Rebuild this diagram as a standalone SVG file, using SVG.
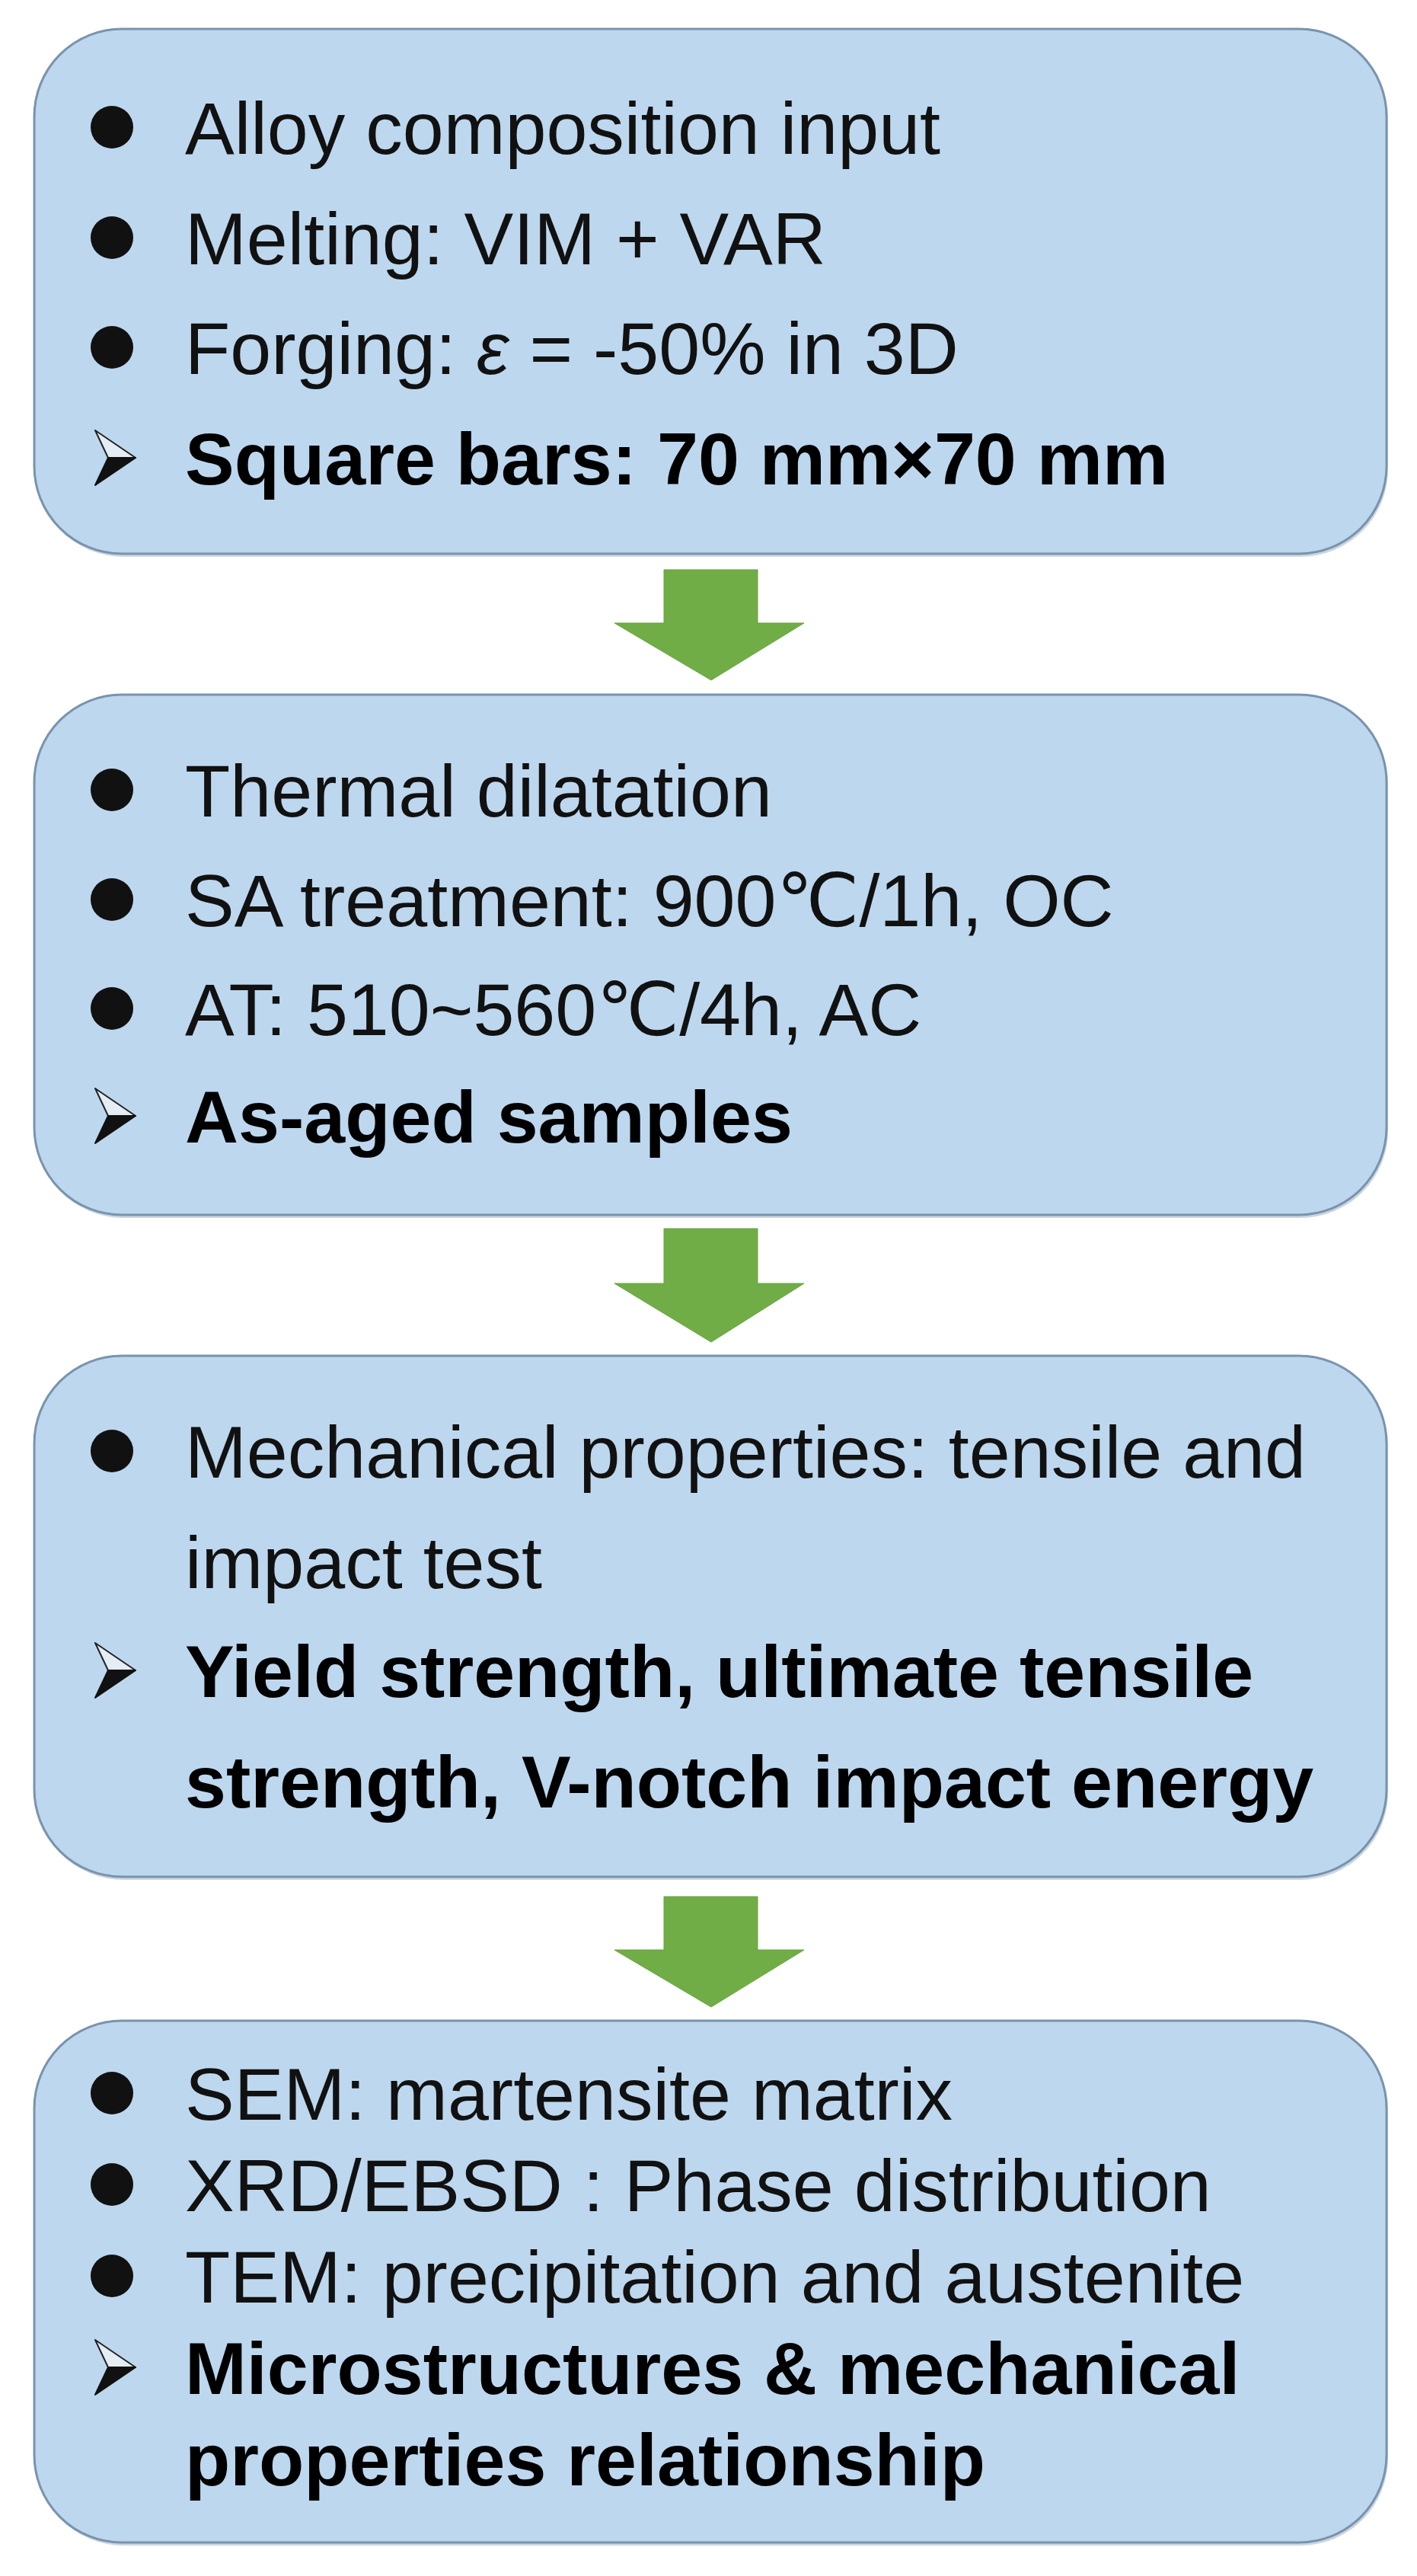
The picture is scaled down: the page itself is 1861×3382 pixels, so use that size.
<svg xmlns="http://www.w3.org/2000/svg" width="1861" height="3382" viewBox="0 0 1861 3382">
<style>
.box{fill:#BDD7EE;stroke:#7A93AD;stroke-width:3}
.shadow{fill:#8FA3B8;opacity:0.45}
.t{font-family:"Liberation Sans","DejaVu Sans",Arial,sans-serif;font-size:97px;fill:#111}
.b{font-weight:bold;fill:#000}
.dot{fill:#111}
.arrow{fill:#70AD47;stroke:#6AA242;stroke-width:1}
</style>
<defs>
<g id="tri">
<path d="M0,-71 L53,-35 L17,-35 Z" fill="#E4ECF4" stroke="#222" stroke-width="2" stroke-linejoin="round"/>
<path d="M17,-35 L53,-35 L0,1 Z" fill="#111" stroke="#111" stroke-width="2" stroke-linejoin="round"/>
</g>
</defs>
<rect width="1861" height="3382" fill="#FFFFFF"/>
<g id="connectors">
<path class="arrow" d="M872,748 H995 V818 H1056 L934,893 L807,818 H872 Z"/>
<path class="arrow" d="M872,1613 H995 V1685 H1056 L934,1762 L807,1685 H872 Z"/>
<path class="arrow" d="M872,2490 H995 V2560 H1056 L934,2635 L807,2560 H872 Z"/>
</g>
<g id="node1">
<rect class="shadow" x="47" y="42" width="1776" height="689" rx="115" ry="115"/>
<rect class="box" x="45" y="38" width="1776" height="689" rx="115" ry="115"/>
<circle class="dot" cx="147" cy="167" r="28"/>
<circle class="dot" cx="147" cy="312" r="28"/>
<circle class="dot" cx="147" cy="456" r="28"/>
<use href="#tri" x="125" y="636"/>
<text class="t" x="243" y="202">Alloy composition input</text>
<text class="t" x="243" y="347">Melting: VIM + VAR</text>
<text class="t" x="243" y="491">Forging: <tspan font-style="italic">ε</tspan> = -50% in 3D</text>
<text class="t b" x="243" y="636">Square bars: 70 mm×70 mm</text>
</g>
<g id="node2">
<rect class="shadow" x="47" y="916" width="1776" height="683" rx="115" ry="115"/>
<rect class="box" x="45" y="912" width="1776" height="683" rx="115" ry="115"/>
<circle class="dot" cx="147" cy="1037" r="28"/>
<circle class="dot" cx="147" cy="1181" r="28"/>
<circle class="dot" cx="147" cy="1324" r="28"/>
<use href="#tri" x="125" y="1500"/>
<text class="t" x="243" y="1072">Thermal dilatation</text>
<text class="t" x="243" y="1216">SA treatment: 900℃/1h, OC</text>
<text class="t" x="243" y="1359">AT: 510~560℃/4h, AC</text>
<text class="t b" x="243" y="1500">As-aged samples</text>
</g>
<g id="node3">
<rect class="shadow" x="47" y="1784" width="1776" height="684" rx="115" ry="115"/>
<rect class="box" x="45" y="1780" width="1776" height="684" rx="115" ry="115"/>
<circle class="dot" cx="147" cy="1905" r="28"/>
<use href="#tri" x="125" y="2228"/>
<text class="t" x="243" y="1940">Mechanical properties: tensile and</text>
<text class="t" x="243" y="2085">impact test</text>
<text class="t b" x="243" y="2228">Yield strength, ultimate tensile</text>
<text class="t b" x="243" y="2373">strength, V-notch impact energy</text>
</g>
<g id="node4">
<rect class="shadow" x="47" y="2657" width="1776" height="685" rx="115" ry="115"/>
<rect class="box" x="45" y="2653" width="1776" height="685" rx="115" ry="115"/>
<circle class="dot" cx="147" cy="2748" r="28"/>
<circle class="dot" cx="147" cy="2868" r="28"/>
<circle class="dot" cx="147" cy="2988" r="28"/>
<use href="#tri" x="125" y="3143"/>
<text class="t" x="243" y="2783">SEM: martensite matrix</text>
<text class="t" x="243" y="2903">XRD/EBSD : Phase distribution</text>
<text class="t" x="243" y="3023">TEM: precipitation and austenite</text>
<text class="t b" x="243" y="3143">Microstructures &amp; mechanical</text>
<text class="t b" x="243" y="3263">properties relationship</text>
</g>
</svg>
